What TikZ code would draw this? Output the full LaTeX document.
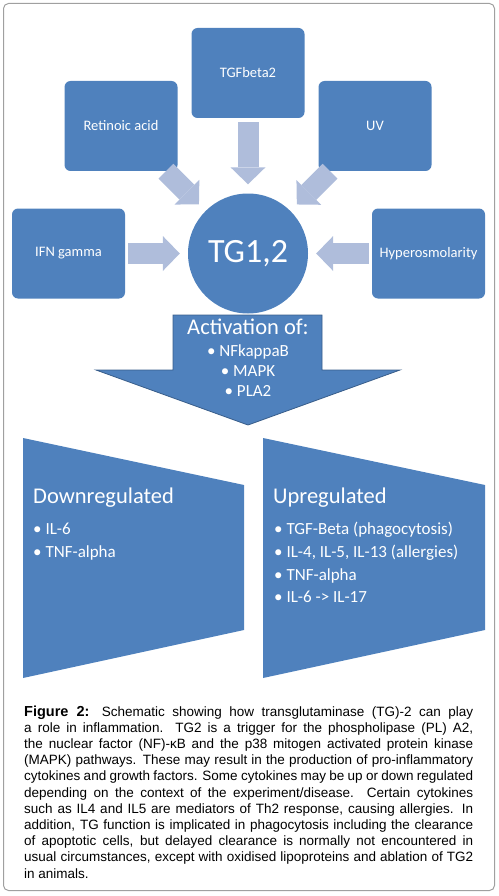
\documentclass[tikz,border=0pt]{standalone}
\usepackage{fontspec}
\setmainfont{Carlito}
\newfontfamily\capfont{Liberation Sans}
\usetikzlibrary{arrows.meta}
\definecolor{boxblue}{RGB}{79,129,189}
\definecolor{arrowblue}{RGB}{175,189,219}
\definecolor{edgeblue}{RGB}{56,93,138}
\definecolor{framegray}{RGB}{160,160,160}
\newcommand\fullline[1]{\hbox to 449pt{#1}}
\begin{document}
\begin{tikzpicture}[x=1pt,y=-1pt,
  src/.style={fill=boxblue, rounded corners=6pt, minimum width=113pt, minimum height=90pt,
    text=white, font=\fontsize{14.5}{17}\selectfont, inner sep=0pt},
  hub/.style={circle, fill=boxblue, minimum size=120pt, inner sep=0pt, text=white,
    font=\fontsize{34}{40}\selectfont},
  feed/.style={draw=arrowblue, line width=21pt,
    -{Triangle[width=35pt, length=17pt, line width=0pt]}},
  wtext/.style={text=white, inner sep=0pt},
  capln/.style={anchor=base west, inner sep=0pt, font=\capfont\fontsize{13.5}{16}\selectfont},
  panel/.style={fill=boxblue}]
\useasboundingbox (0,0) rectangle (498,896);
\draw[framegray, line width=1pt, rounded corners=5pt] (3.5,3.5) rectangle (494.5,890.5);

% source boxes
\node[src] (tgf) at (248,73) {TGFbeta2};
\node[src] (ret) at (121,126) {Retinoic acid};
\node[src] (uv)  at (375,126) {UV};
\node[src] (ifn) at (68.5,253.5) {IFN gamma};
\node[src] (hyp) at (428.5,253.5) {Hyperosmolarity};
\node[hub] (tg) at (248,253.5) {TG1,2};

% feeding arrows
\draw[feed, shorten <=4pt, shorten >=9pt] (tgf) -- (tg);
\draw[feed, shorten <=0pt, shorten >=9.3pt] (ret) -- (tg);
\draw[feed, shorten <=0pt, shorten >=9pt] (uv) -- (tg);
\draw[feed, shorten <=3pt, shorten >=8pt] (ifn) -- (tg);
\draw[feed, shorten <=3pt, shorten >=8pt] (hyp) -- (tg);

% activation block arrow
\draw[fill=boxblue, draw=edgeblue, line width=0.8pt]
  (173,315) -- (322,315) -- (322,370) -- (400,370) -- (248,425) -- (96,370) -- (173,370) -- cycle;
\node[wtext, anchor=base, font=\fontsize{22.5}{27}\selectfont] (act) at (248,334) {Activation of:};
\node[wtext, anchor=base, font=\fontsize{17}{20}\selectfont] (nfk) at (248,356) {• NFkappaB};
\node[wtext, anchor=base, font=\fontsize{17}{20}\selectfont] (mapk) at (248,376.5) {• MAPK};
\node[wtext, anchor=base, font=\fontsize{17}{20}\selectfont] (pla) at (248,396.5) {• PLA2};

% panels
\fill[panel] (23,438) -- (244,485) -- (244,630) -- (23,678) -- cycle;
\fill[panel] (263,438) -- (485,485) -- (485,630) -- (263,678) -- cycle;

\node[wtext, anchor=base west, font=\fontsize{22.5}{27}\selectfont] (down) at (33,503) {Downregulated};
\node[wtext, anchor=base west, font=\fontsize{17}{20}\selectfont] (d1) at (33,534.5) {• IL-6};
\node[wtext, anchor=base west, font=\fontsize{17}{20}\selectfont] (d2) at (33,557.3) {• TNF-alpha};

\node[wtext, anchor=base west, font=\fontsize{22.5}{27}\selectfont] (up) at (273,503) {Upregulated};
\node[wtext, anchor=base west, font=\fontsize{17}{20}\selectfont] (u1) at (274,534.5) {• TGF-Beta (phagocytosis)};
\node[wtext, anchor=base west, font=\fontsize{17}{20}\selectfont] (u2) at (274,557.3) {• IL-4, IL-5, IL-13 (allergies)};
\node[wtext, anchor=base west, font=\fontsize{17}{20}\selectfont] (u3) at (274,580.1) {• TNF-alpha};
\node[wtext, anchor=base west, font=\fontsize{17}{20}\selectfont] (u4) at (274,602.9) {• IL-6 -> IL-17};

% caption, one node per printed line
\node[capln] (c1) at (24,716) {\fullline{{\bfseries\fontsize{14.5}{16}\selectfont Figure 2:} Schematic showing how transglutaminase (TG)-2 can play}};
\node[capln] (c2) at (24,732.2) {\fullline{a role in inflammation. TG2 is a trigger for the phospholipase (PL) A2,}};
\node[capln] (c3) at (24,748.4) {\fullline{the nuclear factor (NF)-κB and the p38 mitogen activated protein kinase}};
\node[capln] (c4) at (24,764.6) {\fullline{(MAPK) pathways. These may result in the production of pro-inflammatory}};
\node[capln] (c5) at (24,780.8) {\fullline{cytokines and growth factors. Some cytokines may be up or down regulated}};
\node[capln] (c6) at (24,797.0) {\fullline{depending on the context of the experiment/disease. Certain cytokines}};
\node[capln] (c7) at (24,813.2) {\fullline{such as IL4 and IL5 are mediators of Th2 response, causing allergies. In}};
\node[capln] (c8) at (24,829.4) {\fullline{addition, TG function is implicated in phagocytosis including the clearance}};
\node[capln] (c9) at (24,845.6) {\fullline{of apoptotic cells, but delayed clearance is normally not encountered in}};
\node[capln] (c10) at (24,861.8) {\fullline{usual circumstances, except with oxidised lipoproteins and ablation of TG2}};
\node[capln] (c11) at (24,878.0) {in animals.};
\end{tikzpicture}
\end{document}
